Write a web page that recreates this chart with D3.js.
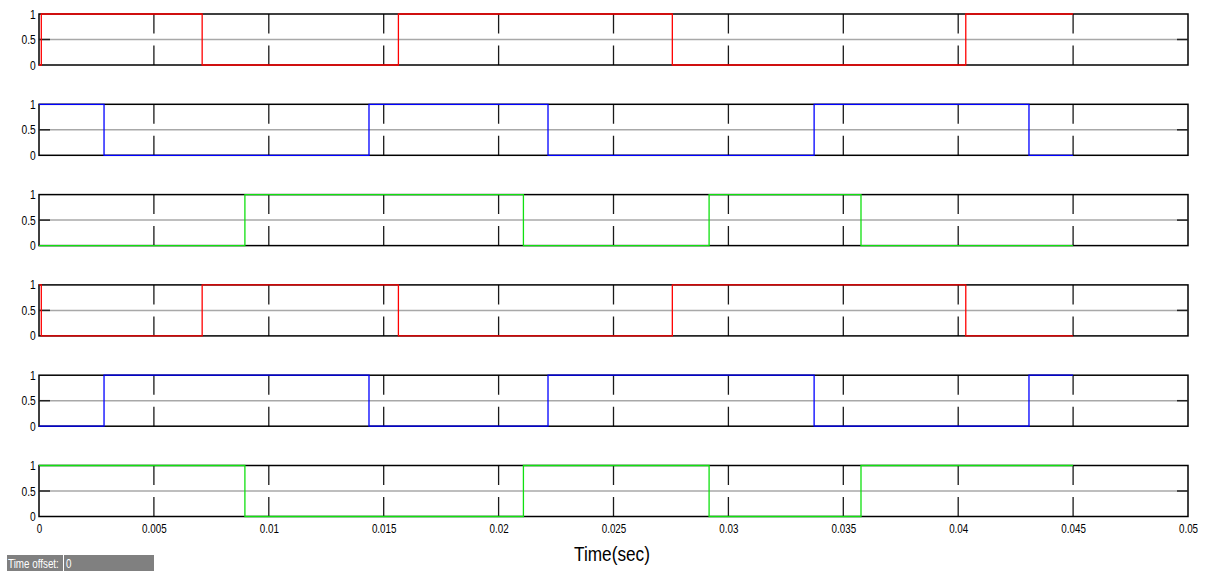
<!DOCTYPE html>
<html>
<head>
<meta charset="utf-8">
<script src="https://cdn.jsdelivr.net/npm/d3@7"></script>
<style>
  html, body { margin: 0; padding: 0; background: #fff; }
  svg text { font-family: "Liberation Sans", Arial, sans-serif; }
</style>
</head>
<body>
<svg id="chart" width="1205" height="571"></svg>
<script>
// tick values
const timeTicks = [0, 0.005, 0.01, 0.015, 0.02, 0.025, 0.03, 0.035, 0.04, 0.045, 0.05];
const levelTicks = [0, 0.5, 1];

// switching instants (sec) and levels for each pulse train
const redTimes = [0, 0.0001, 0.0071, 0.01564, 0.02756, 0.04033, 0.045];
const redUpper = [0, 1, 0, 1, 0, 1, 1];
const redLower = [1, 0, 1, 0, 1, 0, 0];

const blueTimes = [0, 0.00283, 0.01436, 0.02215, 0.03373, 0.04308, 0.045];
const blueUpper = [1, 0, 1, 0, 1, 0, 0];
const blueLower = [0, 1, 0, 1, 0, 1, 1];

const greenTimes = [0, 0.00896, 0.02108, 0.02916, 0.03577, 0.045];
const greenUpper = [0, 1, 0, 1, 0, 0];
const greenLower = [1, 0, 1, 0, 1, 1];

const panels = [
    { times: redTimes, levels: redUpper, color: '#ff0000' },
    { times: blueTimes, levels: blueUpper, color: '#0000ff' },
    { times: greenTimes, levels: greenUpper, color: '#10e010' },
    { times: redTimes, levels: redLower, color: '#ff0000' },
    { times: blueTimes, levels: blueLower, color: '#0000ff' },
    { times: greenTimes, levels: greenLower, color: '#10e010' },
];

const LEFT = 39, RIGHT = 1188;
const FIRST_TOP = 14, PANEL_H = 51, PANEL_STEP = 90.3;
const NARROW = 'scale(0.82,1)';   // no narrow font installed, squeeze instead

const svg = d3.select('#chart');

const x = d3.scaleLinear().domain([0, 0.05]).range([LEFT, RIGHT]);

panels.forEach((p, i) => {
    const top = FIRST_TOP + i * PANEL_STEP;
    const y = d3.scaleLinear().domain([0, 1]).range([top + PANEL_H, top]);
    const g = svg.append('g').attr('class', 'panel');

    // horizontal grid at 0.5
    g.append('line')
        .attr('x1', x(0)).attr('x2', x(0.05))
        .attr('y1', y(0.5)).attr('y2', y(0.5))
        .attr('stroke', '#a8a8a8').attr('stroke-width', 1.5);

    // vertical grid lines (dotted look of the scope)
    const inner = timeTicks.slice(1, -1);
    g.selectAll('line.vgrid')
        .data(inner)
        .enter()
        .append('line')
        .attr('class', 'vgrid')
        .attr('x1', d => x(d)).attr('x2', d => x(d))
        .attr('y1', y(1)).attr('y2', y(0))
        .attr('stroke', '#1a1a1a').attr('stroke-width', 1.3)
        .attr('stroke-dasharray', `${PANEL_H / 2 - 6},12`);

    // frame
    g.append('rect')
        .attr('x', x(0)).attr('y', y(1))
        .attr('width', x(0.05) - x(0)).attr('height', PANEL_H)
        .attr('fill', 'none').attr('stroke', '#000').attr('stroke-width', 1.5);

    // inner tick marks at 0.5
    g.append('line')
        .attr('x1', x(0)).attr('x2', x(0) + 11)
        .attr('y1', y(0.5)).attr('y2', y(0.5))
        .attr('stroke', '#222').attr('stroke-width', 1.5);
    g.append('line')
        .attr('x1', x(0.05) - 11).attr('x2', x(0.05))
        .attr('y1', y(0.5)).attr('y2', y(0.5))
        .attr('stroke', '#222').attr('stroke-width', 1.5);

    // y axis labels
    const yAxis = d3.axisLeft(y).tickValues(levelTicks).tickSize(0).tickPadding(4)
        .tickFormat(d3.format('~g'));
    const ya = g.append('g').attr('transform', `translate(${x(0)},0)`).call(yAxis);
    ya.select('.domain').remove();
    ya.selectAll('text').attr('font-size', 12.5).attr('fill', '#000')
        .attr('transform', NARROW)
        .style('font-family', '"Liberation Sans", Arial, sans-serif');

    // pulse train
    const pts = p.times.map((t, k) => [t, p.levels[k]]);
    g.append('path')
        .datum(pts)
        .attr('fill', 'none')
        .attr('stroke', p.color)
        .attr('stroke-width', 1.3)
        .attr('d', d3.line().x(d => x(d[0])).y(d => y(d[1])).curve(d3.curveStepAfter));

    // bottom panel gets time axis
    if (i === panels.length - 1) {
        const xAxis = d3.axisBottom(x).tickValues(timeTicks).tickSize(0).tickPadding(8)
            .tickFormat(d3.format('~g'));
        const xa = g.append('g').attr('transform', `translate(0,${y(0)})`).call(xAxis);
        xa.select('.domain').remove();
        xa.selectAll('text').attr('font-size', 12).attr('fill', '#000')
            .attr('transform', NARROW)
            .style('font-family', '"Liberation Sans", Arial, sans-serif');
    }
});

// axis title
svg.append('text')
    .attr('transform', `translate(612,561) ${NARROW}`)
    .attr('text-anchor', 'middle')
    .attr('font-size', 21)
    .text('Time(sec)');

// time offset box
const box = svg.append('g');
box.append('rect').attr('x', 7).attr('y', 555).attr('width', 147).attr('height', 16).attr('fill', '#808080');
box.append('line').attr('x1', 63.5).attr('x2', 63.5).attr('y1', 555).attr('y2', 571).attr('stroke', '#fff');
box.append('text').attr('transform', `translate(8,568) ${NARROW}`)
    .attr('font-size', 12).attr('fill', '#fff').text('Time offset:');
box.append('text').attr('transform', `translate(66,568) ${NARROW}`)
    .attr('font-size', 12).attr('fill', '#fff').text('0');
</script>
</body>
</html>
